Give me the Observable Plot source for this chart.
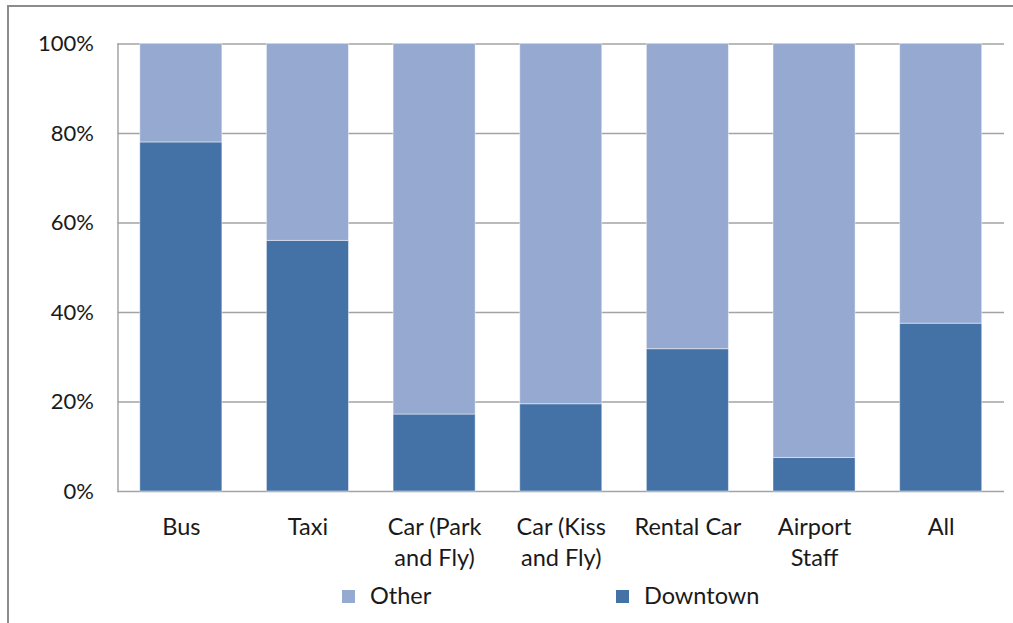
<!DOCTYPE html>
<html>
<head>
<meta charset="utf-8">
<script src="https://cdn.jsdelivr.net/npm/d3@7"></script>
<script src="https://cdn.jsdelivr.net/npm/@observablehq/plot@0.6"></script>
<style>
  html, body { margin: 0; padding: 0; background: #fff; }
  body { width: 1013px; height: 623px; overflow: hidden; position: relative; font-family: Lato, "Open Sans", sans-serif; }
  #frame { position: absolute; left: 7px; top: 5px; width: 1100px; height: 700px;
           border-left: 2px solid #8c8c8c; border-top: 2px solid #8c8c8c; }
  #chart { position: absolute; left: 0; top: 0; }
  #legend { position: absolute; left: 0; top: 0; width: 1013px; height: 623px; pointer-events: none; }
  .li { position: absolute; font-size: 23.5px; color: #1a1a1a; line-height: 1; }
  .sw { position: absolute; width: 13px; height: 13px; }
</style>
</head>
<body>
<div id="frame"></div>
<div id="chart"></div>
<div id="legend"></div>
<script>
const categories = ["Bus", "Taxi", "Car (Park and Fly)", "Car (Kiss and Fly)", "Rental Car", "Airport Staff", "All"];
const tickLabels = ["Bus", "Taxi", "Car (Park\nand Fly)", "Car (Kiss\nand Fly)", "Rental Car", "Airport\nStaff", "All"];
const downtown = [78, 56, 17.2, 19.5, 31.8, 7.5, 37.5];
const other = [22, 44, 82.8, 80.5, 68.2, 92.5, 62.5];
const seriesNames = ["Downtown", "Other"];
const seriesColors = ["#4472a6", "#95a9d1"];
const yTicks = [0, 20, 40, 60, 80, 100];

const rows = [];
categories.forEach((c, i) => {
  rows.push({category: c, series: "Downtown", value: downtown[i]});
  rows.push({category: c, series: "Other", value: other[i]});
});
const labelOf = new Map(categories.map((c, i) => [c, tickLabels[i]]));

const chart = Plot.plot({
  width: 1013,
  height: 578,
  marginLeft: 117.5,
  marginRight: 9,
  marginTop: 43.5,
  marginBottom: 87,
  style: {fontFamily: "Lato, 'Open Sans', sans-serif", fontSize: "22px", color: "#1a1a1a", background: "transparent"},
  x: {domain: categories, paddingInner: 0.352, paddingOuter: 0.176, align: 0.5, round: false, label: null},
  y: {domain: [0, 100], label: null},
  color: {domain: seriesNames, range: seriesColors},
  marks: [
    Plot.gridY(yTicks, {stroke: "#a3a3a3", strokeOpacity: 1, strokeWidth: 1.5}),
    Plot.frame({anchor: "left", stroke: "#a3a3a3", strokeWidth: 1.5}),
    Plot.barY(rows, {x: "category", y: "value", fill: "series", order: seriesNames,
                     stroke: "#ffffff", strokeOpacity: 0.45, strokeWidth: 1}),
    Plot.axisY(yTicks, {tickSize: 0, tickPadding: 24, tickFormat: d => d + "%", fontSize: 22, label: null}),
    Plot.axisX({tickSize: 0, tickPadding: 21, tickFormat: d => labelOf.get(d), fontSize: 23.5, lineHeight: 1.32, label: null})
  ]
});
document.getElementById("chart").appendChild(chart);

// Legend
const legend = document.getElementById("legend");
const legendItems = [
  {name: "Other", color: seriesColors[1], sx: 342, tx: 370},
  {name: "Downtown", color: seriesColors[0], sx: 616, tx: 644}
];
for (const it of legendItems) {
  const s = document.createElement("div");
  s.className = "sw"; s.style.left = it.sx + "px"; s.style.top = "590px"; s.style.background = it.color;
  legend.appendChild(s);
  const t = document.createElement("div");
  t.className = "li"; t.style.left = it.tx + "px"; t.style.top = "584px"; t.textContent = it.name;
  legend.appendChild(t);
}
</script>
</body>
</html>
